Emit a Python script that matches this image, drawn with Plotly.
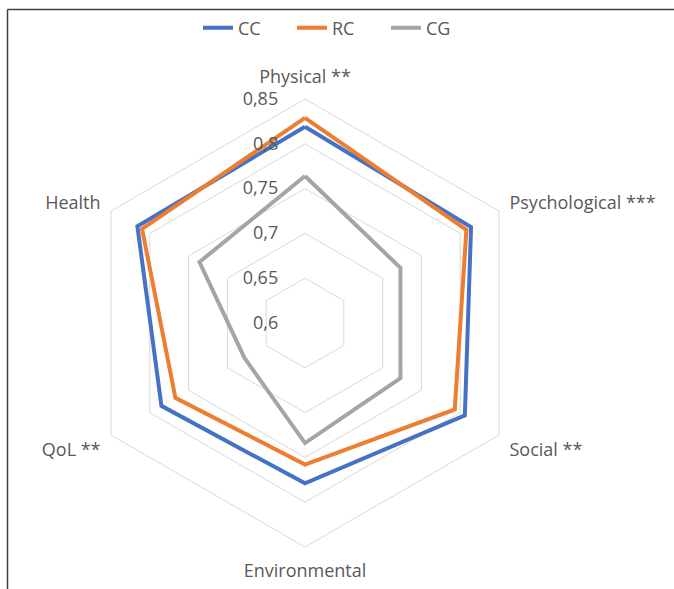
import plotly.graph_objects as go

categories = ["Physical **", "Psychological ***", "Social **", "Environmental", "QoL **", "Health"]
cc = [0.819, 0.814, 0.806, 0.779, 0.785, 0.816]
rc = [0.829, 0.808, 0.793, 0.758, 0.767, 0.810]
cg = [0.764, 0.723, 0.723, 0.734, 0.678, 0.736]
radial_ticks = [0.6, 0.65, 0.7, 0.75, 0.8, 0.85]

series = [("CC", cc, "#4472C4"), ("RC", rc, "#ED7D31"), ("CG", cg, "#A5A5A5")]

fig = go.Figure()
for name, vals, color in series:
    fig.add_trace(go.Scatterpolar(
        r=vals + vals[:1], theta=categories + categories[:1], mode="lines", name=name,
        line=dict(color=color, width=4), hoverinfo="skip"))

W, H = 674, 589
cx, cy, R = 305, 323, 224
TXT = "#595959"
FS = 18
fig.update_layout(
    width=W, height=H, margin=dict(l=0, r=0, t=0, b=0, autoexpand=False),
    paper_bgcolor="white", separators=",.",
    font=dict(family="Open Sans", size=FS, color=TXT),
    polar=dict(
        domain=dict(x=[(cx - R) / W, (cx + R) / W], y=[(H - cy - R) / H, (H - cy + R) / H]),
        bgcolor="white", gridshape="linear",
        angularaxis=dict(direction="clockwise", rotation=90, showgrid=False,
                         ticks="outside", ticklen=8, tickcolor="rgba(0,0,0,0)",
                         showline=True, linecolor="#D9D9D9", linewidth=1,
                         tickfont=dict(size=FS, color=TXT)),
        radialaxis=dict(range=[0.6, 0.85], tickvals=radial_ticks, showline=False,
                        ticks="outside", ticklen=20, tickcolor="rgba(0,0,0,0)",
                        gridcolor="#D9D9D9", gridwidth=1, angle=90, tickangle=90,
                        side="counterclockwise",
                        tickfont=dict(size=FS, color=TXT)),
    ),
    legend=dict(orientation="h", x=339 / W, xanchor="center", y=(H - 28) / H,
                yanchor="middle", font=dict(size=FS, color=TXT), bgcolor="rgba(0,0,0,0)",
                entrywidth=49),
    showlegend=True,
    shapes=[
        dict(type="line", xref="paper", yref="paper", x0=7.5 / W, x1=7.5 / W,
             y0=-0.05, y1=(H - 9.5) / H, line=dict(color="#404040", width=1.5)),
        dict(type="line", xref="paper", yref="paper", x0=7.5 / W, x1=1.05,
             y0=(H - 9.5) / H, y1=(H - 9.5) / H, line=dict(color="#404040", width=1.5)),
    ],
)
fig.write_html("out.html", config={"displayModeBar": False},
               post_script="document.body.style.margin='0';document.body.style.overflow='hidden';")
